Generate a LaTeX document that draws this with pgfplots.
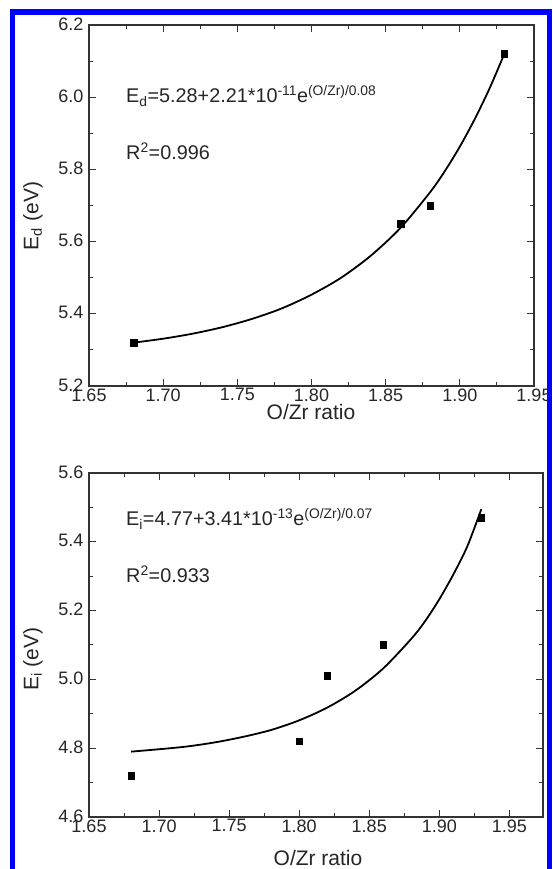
\documentclass[border=0pt]{standalone}
\usepackage{fontspec}
\setmainfont{Liberation Sans}
\usepackage{pgfplots}
\pgfplotsset{compat=1.18}
\pgfplotsset{
 myax/.style={
  scale only axis,
  axis line style={line width=1.2pt, black!80},
  tick style={line width=1pt, black!80},
  major tick length=7pt, minor tick length=4pt,
  tick align=inside,
  minor x tick num=1, minor y tick num=1,
  scaled ticks=false,
  /pgf/number format/assume math mode=true,
  ticklabel style={font=\fontsize{18}{18}\selectfont, text=black!85},
  xtick={1.65,1.70,1.75,1.80,1.85,1.90,1.95},
  x tick label style={/pgf/number format/fixed, /pgf/number format/fixed zerofill, /pgf/number format/precision=2, yshift=1pt},
  y tick label style={/pgf/number format/fixed, /pgf/number format/fixed zerofill, /pgf/number format/precision=1, xshift=-2pt, yshift=1pt},
  clip=false,
 },
 fitline/.style={black, line width=1.8pt, no marks, smooth},
 pts/.style={only marks, mark=square*, mark size=3.3pt, black},
}
\begin{document}
\begin{tikzpicture}[x=1pt,y=1pt]
\useasboundingbox (0,0) rectangle (553,869);
\clip (0,0) rectangle (553,869);
\fill[white] (0,0) rectangle (553,869);

\begin{axis}[myax, at={(89pt,483pt)}, anchor=south west, width=445pt, height=361pt,
  xmin=1.65, xmax=1.95, ymin=5.2, ymax=6.2, ytick={5.2,5.4,5.6,5.8,6.0,6.2}]
\addplot[fitline] coordinates {
 (1.68,5.320) (1.70,5.331) (1.72,5.345) (1.74,5.363) (1.76,5.386) (1.78,5.415)
 (1.80,5.453) (1.82,5.500) (1.84,5.561) (1.86,5.638) (1.88,5.737) (1.89,5.796)
 (1.90,5.863) (1.91,5.939) (1.92,6.024) (1.93,6.120)};
\addplot[pts] coordinates {(1.68,5.32) (1.86,5.65) (1.88,5.70) (1.93,6.12)};
\end{axis}

\begin{axis}[myax, at={(89pt,52pt)}, anchor=south west, width=454pt, height=344pt,
  xmin=1.65, xmax=1.974, ymin=4.6, ymax=5.6, ytick={4.6,4.8,5.0,5.2,5.4,5.6}]
\addplot[fitline] coordinates {
 (1.68,4.790) (1.70,4.797) (1.72,4.805) (1.74,4.817) (1.76,4.833) (1.78,4.853)
 (1.80,4.881) (1.82,4.918) (1.84,4.967) (1.86,5.032) (1.88,5.118) (1.89,5.170)
 (1.90,5.233) (1.91,5.305) (1.92,5.387) (1.93,5.495)};
\addplot[pts] coordinates {(1.68,4.72) (1.80,4.82) (1.82,5.01) (1.86,5.10) (1.93,5.47)};
\end{axis}

\begin{scope}[font=\fontsize{19.8}{19.8}\selectfont, text=black!85]
\node[anchor=base west, inner sep=0] at (126,766) {E\textsubscript{d}=5.28+2.21*10\textsuperscript{-11}e\textsuperscript{(O/Zr)/0.08}};
\node[anchor=base west, inner sep=0] at (126,709) {R\textsuperscript{2}=0.996};
\node[anchor=base west, inner sep=0] at (126,343) {E\textsubscript{i}=4.77+3.41*10\textsuperscript{-13}e\textsuperscript{(O/Zr)/0.07}};
\node[anchor=base west, inner sep=0] at (126,286) {R\textsuperscript{2}=0.933};
\end{scope}
\begin{scope}[font=\fontsize{21}{21}\selectfont, text=black!85]
\node[anchor=base, inner sep=0] at (311,449) {O/Zr ratio};
\node[anchor=base, inner sep=0] at (318,4) {O/Zr ratio};
\node[rotate=90, inner sep=0] at (33,653) {E\textsubscript{d} (eV)};
\node[rotate=90, inner sep=0] at (33,210) {E\textsubscript{i} (eV)};
\end{scope}

\draw[blue, line width=5.5pt] (12.5,-20) -- (12.5,857) -- (549.5,857) -- (549.5,-20);
\end{tikzpicture}
\end{document}
